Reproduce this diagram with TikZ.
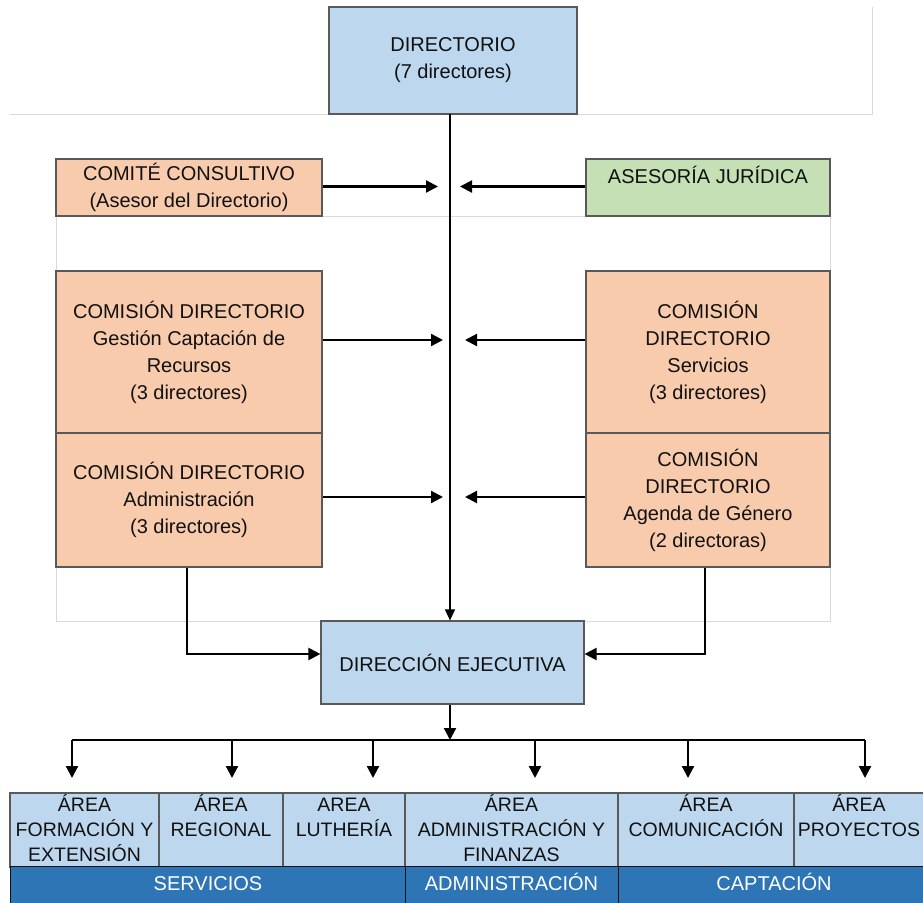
\documentclass[tikz,border=0pt]{standalone}
\usepackage{fontspec}
\setmainfont{Liberation Sans}
\usetikzlibrary{arrows.meta}
\definecolor{lblue}{HTML}{BDD7EE}
\definecolor{peach}{HTML}{F8CBAD}
\definecolor{lgreen}{HTML}{C5E0B4}
\definecolor{dblue}{HTML}{2E75B6}
\definecolor{bord}{HTML}{595959}
\definecolor{gridc}{HTML}{D9D9D9}
\definecolor{ink}{HTML}{111111}
\begin{document}
\begin{tikzpicture}[x=1pt,y=-1pt,
  box/.style={draw=bord, line width=1.2pt, inner sep=0pt, align=center, text=ink,
    font=\fontsize{20}{27}\selectfont},
  cellbox/.style={draw=bord, line width=1.2pt, fill=lblue, inner sep=0pt,
    minimum height=74pt},
  celltext/.style={anchor=north, inner sep=0pt, align=center, text=ink,
    font=\fontsize{19.5}{25}\selectfont},
  bandbox/.style={draw=ink, line width=1pt, fill=dblue, inner sep=0pt, minimum height=38pt,
    text height=15pt, text depth=4pt,
    text=white, font=\fontsize{20}{25}\selectfont},
  gridline/.style={draw=gridc, line width=1pt},
  conn/.style={draw=black, line width=1.5pt},
  arr/.style={draw=black, line width=2.2pt, -{Triangle[length=12pt,width=12pt]}},
  arrthin/.style={draw=black, line width=1.5pt, -{Triangle[length=11pt,width=10pt]}}
]
\useasboundingbox (0,0) rectangle (923,902);

% light grid lines
\draw[gridline] (10,114.5) -- (872,114.5) -- (872,7);
\draw[gridline] (56,216) rectangle (830,621);

% boxes
\node[box, fill=lblue, minimum width=248pt, minimum height=107pt] (dir) at (453,60.5)
  {DIRECTORIO\\(7 directores)};
\node[box, fill=peach, minimum width=266pt, minimum height=57pt] (cc) at (189,187.5)
  {COMITÉ CONSULTIVO\\(Asesor del Directorio)};
\node[box, fill=lgreen, minimum width=244pt, minimum height=57pt] (aj) at (708,187.5) {};
\node[anchor=north, inner sep=0pt, text=ink, font=\fontsize{20}{27}\selectfont] (ajt) at (708,166)
  {ASESORÍA JURÍDICA};
\node[box, fill=peach, minimum width=266pt, minimum height=162pt] (cg) at (189,352)
  {COMISIÓN DIRECTORIO\\Gestión Captación de\\Recursos\\(3 directores)};
\node[box, fill=peach, minimum width=266pt, minimum height=134pt] (ca) at (189,500)
  {COMISIÓN DIRECTORIO\\Administración\\(3 directores)};
\node[box, fill=peach, minimum width=244pt, minimum height=162pt] (cs) at (708,352)
  {COMISIÓN\\DIRECTORIO\\Servicios\\(3 directores)};
\node[box, fill=peach, minimum width=244pt, minimum height=134pt] (cag) at (708,500)
  {COMISIÓN\\DIRECTORIO\\Agenda de Género\\(2 directoras)};
\node[box, fill=lblue, minimum width=263pt, minimum height=83pt] (de) at (452.5,662.5)
  {DIRECCIÓN EJECUTIVA};

% main vertical line
\coordinate (top) at (450,114);
\draw[arrthin] (top) -- (de.north -| top);

% side arrows
\coordinate (c1) at (438,186.5);
\coordinate (c2) at (460,186.5);
\coordinate (c3) at (443,340);
\coordinate (c4) at (465,340);
\coordinate (c5) at (443,497);
\coordinate (c6) at (465,497);
\draw[arr] (cc.east |- c1) -- (c1);
\draw[arr] (aj.west |- c2) -- (c2);
\draw[arr] (cg.east |- c3) -- (c3);
\draw[arr] (cs.west |- c4) -- (c4);
\draw[arr] (ca.east |- c5) -- (c5);
\draw[arr] (cag.west |- c6) -- (c6);

% elbows into Direccion Ejecutiva
\coordinate (e1) at (187,654);
\coordinate (e2) at (705,654);
\draw[arr] (ca.south -| e1) -- (e1) -- (de.west |- e1);
\draw[arr] (cag.south -| e2) -- (e2) -- (de.east |- e2);

% distribution to areas
\coordinate (h0) at (450,740);
\draw[arr] (de.south -| h0) -- (h0);
\coordinate (hL) at (72,740);
\coordinate (hR) at (865,740);
\draw[conn] (hL) -- (hR);
\foreach \i/\x in {1/72,2/232,3/373,4/535,5/688,6/865}{
  \coordinate (a\i) at (\x,778);
  \draw[arr] (\x,740) -- (a\i);
}

% area cells
\node[cellbox, minimum width=149pt] (r1) at (84.5,830) {};
\node[cellbox, minimum width=124pt] (r2) at (221,830) {};
\node[cellbox, minimum width=122pt] (r3) at (344,830) {};
\node[cellbox, minimum width=213pt] (r4) at (511.5,830) {};
\node[cellbox, minimum width=176pt] (r5) at (706,830) {};
\node[cellbox, minimum width=136pt] (r6) at (862,830) {};
\node[celltext] (t1) at (84.5,794) {ÁREA\\FORMACIÓN Y\\EXTENSIÓN};
\node[celltext] (t2) at (221,794) {ÁREA\\REGIONAL};
\node[celltext] (t3) at (344,794) {\vphantom{Á}AREA\\LUTHERÍA};
\node[celltext] (t4) at (511.5,794) {ÁREA\\ADMINISTRACIÓN Y\\FINANZAS};
\node[celltext] (t5) at (706,794) {ÁREA\\COMUNICACIÓN};
\node[celltext] (t6) at (859,794) {ÁREA\\PROYECTOS};

% bottom band
\node[bandbox, minimum width=396pt] (b1) at (208,885) {SERVICIOS};
\node[bandbox, minimum width=213pt] (b2) at (511.5,885) {ADMINISTRACIÓN};
\node[bandbox, minimum width=312pt] (b3) at (774,885) {CAPTACIÓN};
\end{tikzpicture}
\end{document}
